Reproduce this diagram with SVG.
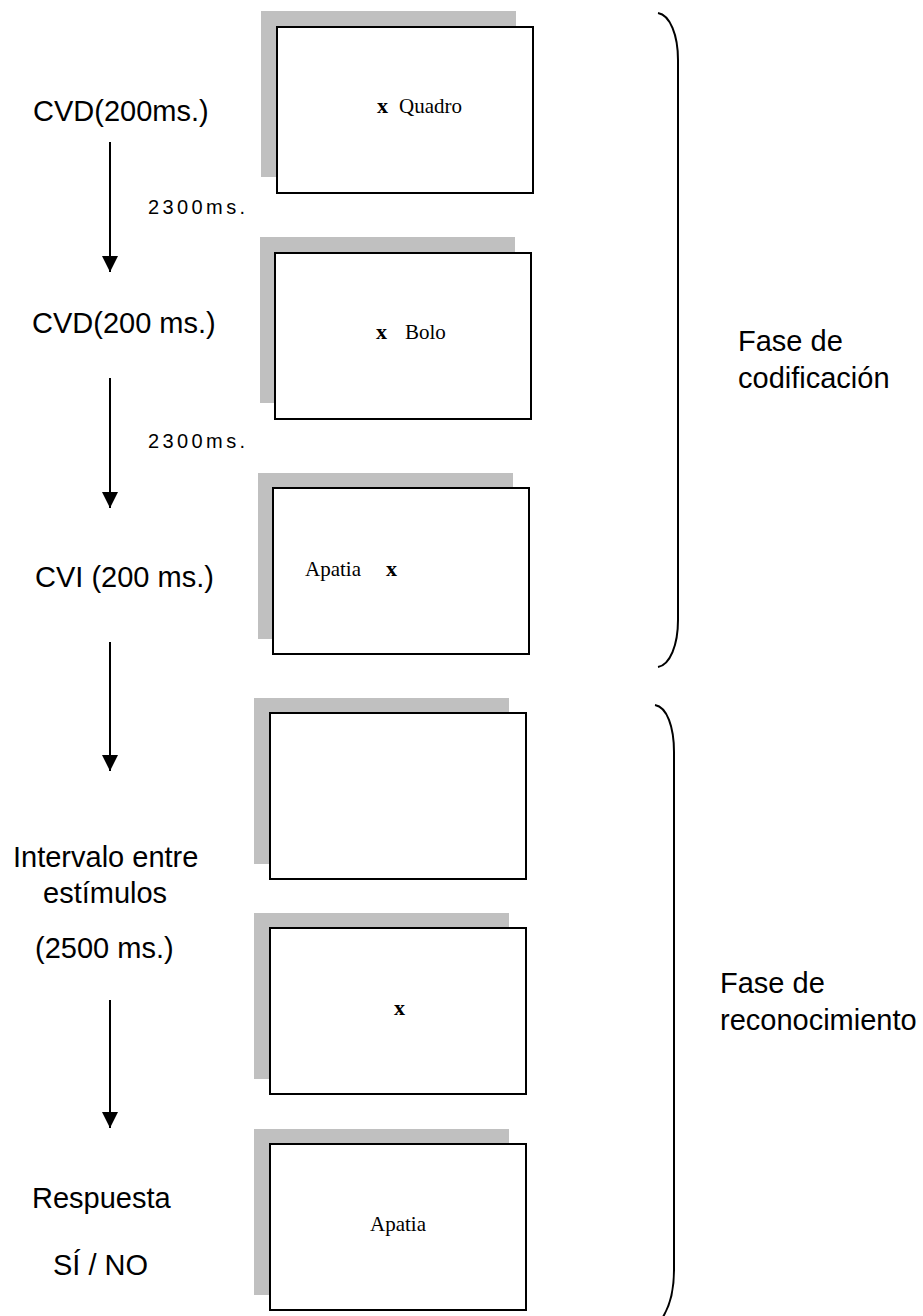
<svg xmlns="http://www.w3.org/2000/svg" width="923" height="1316" viewBox="0 0 923 1316">
<style>
.shadow{fill:#c0c0c0;stroke:none}
.card{fill:#ffffff;stroke:#000000;stroke-width:2}
.lbl{font-family:"Liberation Sans",Arial,sans-serif;font-size:29px;fill:#000}
.dur{font-family:"Liberation Sans",Arial,sans-serif;font-size:20px;letter-spacing:3.4px;fill:#000}
.stim{font-family:"Liberation Serif","Times New Roman",serif;font-size:21px;fill:#000}
.bx{font-weight:bold;font-size:22px}
.arrow{stroke:#000;stroke-width:2;fill:none}
.brace{stroke:#000;stroke-width:2;fill:none}
</style>
<defs>
<marker id="ah" markerUnits="userSpaceOnUse" markerWidth="16" markerHeight="16" refX="16" refY="8" orient="auto">
<path d="M0,0 L16,8 L0,16 z" fill="#000"/>
</marker>
</defs>
<rect width="923" height="1316" fill="#fff"/>

<g id="card1">
<rect class="shadow" x="261" y="11" width="255" height="166"/>
<rect class="card" x="277" y="27" width="256" height="166"/>
<text class="stim" y="113"><tspan class="bx" x="377">x</tspan><tspan x="399">Quadro</tspan></text>
</g>
<g id="card2">
<rect class="shadow" x="260" y="237" width="255" height="166"/>
<rect class="card" x="275" y="253" width="256" height="166"/>
<text class="stim" y="339"><tspan class="bx" x="376">x</tspan><tspan x="405">Bolo</tspan></text>
</g>
<g id="card3">
<rect class="shadow" x="258" y="473" width="255" height="166"/>
<rect class="card" x="273" y="488" width="256" height="166"/>
<text class="stim" y="576"><tspan x="305">Apatia</tspan><tspan class="bx" x="386">x</tspan></text>
</g>
<g id="card4">
<rect class="shadow" x="254" y="698" width="255" height="166"/>
<rect class="card" x="270" y="713" width="256" height="166"/>
</g>
<g id="card5">
<rect class="shadow" x="254" y="913" width="255" height="166"/>
<rect class="card" x="270" y="928" width="256" height="166"/>
<text class="stim bx" x="394" y="1015">x</text>
</g>
<g id="card6">
<rect class="shadow" x="254" y="1129" width="255" height="166"/>
<rect class="card" x="270" y="1144" width="256" height="166"/>
<text class="stim" x="370" y="1231">Apatia</text>
</g>

<g id="labels">
<text class="lbl" x="33" y="121">CVD(200ms.)</text>
<text class="dur" x="148" y="214">2300ms.</text>
<text class="lbl" x="32" y="333">CVD(200 ms.)</text>
<text class="dur" x="148" y="448">2300ms.</text>
<text class="lbl" x="35" y="587">CVI (200 ms.)</text>
<text class="lbl" x="13" y="867">Intervalo entre</text>
<text class="lbl" x="43" y="903">estímulos</text>
<text class="lbl" x="35" y="958">(2500 ms.)</text>
<text class="lbl" x="32" y="1208">Respuesta</text>
<text class="lbl" x="53" y="1275">SÍ / NO</text>
<text class="lbl" x="738" y="351">Fase de</text>
<text class="lbl" x="738" y="388">codificación</text>
<text class="lbl" x="720" y="993">Fase de</text>
<text class="lbl" x="720" y="1030">reconocimiento</text>
</g>

<g id="connectors">
<line class="arrow" x1="110" y1="142" x2="110" y2="272" marker-end="url(#ah)"/>
<line class="arrow" x1="110" y1="378" x2="110" y2="508" marker-end="url(#ah)"/>
<line class="arrow" x1="110" y1="642" x2="110" y2="771" marker-end="url(#ah)"/>
<line class="arrow" x1="110" y1="1000" x2="110" y2="1128" marker-end="url(#ah)"/>
<path class="brace" d="M658,13 C670,15 678,35 678,60 L678,620 C678,645 670,665 658,667"/>
<path class="brace" d="M655,705 C667,707 674,727 674,752 L674,1270 C674,1295 668,1310 661,1320"/>
</g>
</svg>
